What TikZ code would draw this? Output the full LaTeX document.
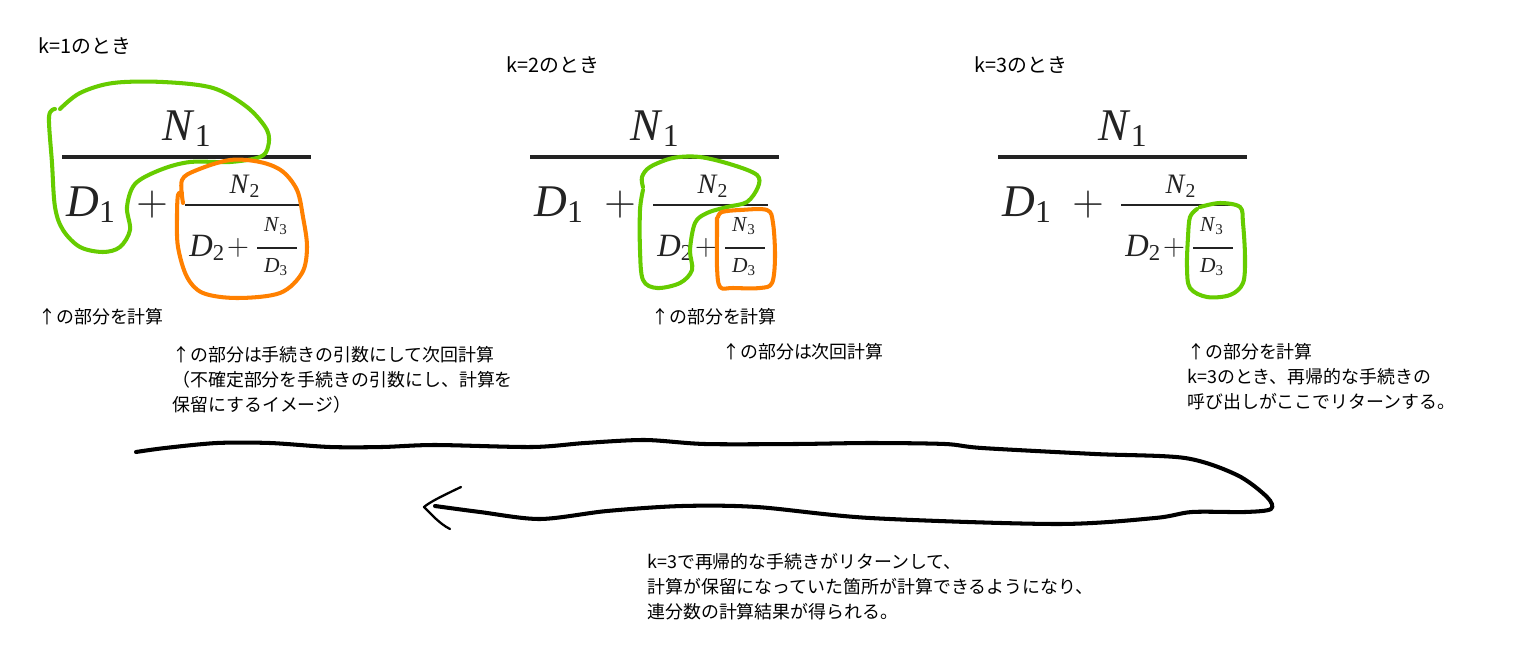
\documentclass[tikz,border=0pt]{standalone}
\usepackage[no-math]{fontspec}
\newfontfamily\jp{Noto Sans CJK JP}
\newfontfamily\tms{Liberation Serif}
\usetikzlibrary{calc}
\definecolor{penG}{RGB}{102,204,0}
\definecolor{penO}{RGB}{255,128,0}
\definecolor{ink}{RGB}{35,35,35}
\newcommand{\vr}[2]{\textit{#1}\textsubscript{#2}}
\tikzset{
  lbl/.style={font=\jp\fontsize{10.2}{14.2}\selectfont, inner sep=0pt, anchor=north west, align=left},
  ttl/.style={font=\jp\fontsize{11.3}{14}\selectfont, inner sep=0pt, anchor=west},
  symL/.style={font=\tms\fontsize{25.8}{30}\selectfont, text=ink, inner sep=0pt},
  symM/.style={font=\tms\fontsize{16}{20}\selectfont, text=ink, inner sep=0pt},
  symD/.style={font=\tms\fontsize{18.5}{22}\selectfont, text=ink, inner sep=0pt},
  symS/.style={font=\tms\fontsize{12.2}{15}\selectfont, text=ink, inner sep=0pt},
  pen/.style={line width=2.3pt, line cap=round, line join=round}
}
\begin{document}
\begin{tikzpicture}[x=0.02cm, y=-0.02cm]
\useasboundingbox (0,0) rectangle (1516,670);
\fill[white] (0,0) rectangle (1516,670);
% the three stages k=1,2,3
\node[ttl] (kA) at (38,46) {k=1のとき};
\node[ttl] (kB) at (506,65) {k=2のとき};
\node[ttl] (kC) at (974,65) {k=3のとき};
% the same continued fraction, three times
\foreach \ox/\s in {62/A,530/B,998/C}{
\begin{scope}[shift={(\ox,157)}]
  \draw[ink, line width=2pt] (0,0) -- (249,0);
  \draw[ink, line width=1.6pt] (123,48) -- (238,48);
  \draw[ink, line width=1.3pt] (195,91) -- (235,91);
  \node[symL, anchor=base] (N1\s) at (125,-17) {\vr{N}{1}};
  \node[symL, anchor=base west] (D1\s) at (4,59) {\vr{D}{1}};
  \node[symL] (P1\s) at (90,48) {$+$};
  \node[symM, anchor=base] (N2\s) at (183,36) {\vr{N}{2}};
  \node[symD, anchor=base west] (D2\s) at (127,99) {\vr{D}{2}};
  \node[symD] (P2\s) at (176,91) {$+$};
  \node[symS, anchor=base] (N3\s) at (214,74) {\vr{N}{3}};
  \node[symS, anchor=base] (D3\s) at (214,115) {\vr{D}{3}};
\end{scope}}
% k=1: green = computed now, orange = handed over
\draw[pen, penG] plot[smooth, tension=0.55] coordinates {(60,109) (80,93) (113,83) (163,82) (213,88) (247,107) (267,130) (268,147) (260,157) (230,162) (190,162) (160,170) (135,184) (127,207) (130,230) (120,247) (103,252) (80,247) (63,230) (55,207) (52,163) (49,117) (55,109)};
\draw[pen, penO] plot[smooth, tension=0.55] coordinates {(183,203) (182,180) (197,170) (230,160) (260,162) (282,171) (297,190) (303,217) (307,247) (302,273) (280,293) (237,298) (203,293) (187,277) (178,247) (177,217) (178,195) (182,193)};
% k=2
\draw[pen, penG] plot[smooth, tension=0.55] coordinates {(643,187) (642,177) (650,167) (673,158) (700,157) (733,165) (757,175) (758,187) (747,202) (727,207) (707,213) (695,223) (690,250) (692,270) (680,283) (657,288) (643,280) (640,250) (640,210) (643,190)};
\draw[pen, penO] plot[smooth, tension=0.55] coordinates {(718,217) (722,212) (740,210) (767,210) (773,223) (775,257) (772,283) (760,288) (733,288) (720,287) (717,267) (717,233) (717,218)};
% k=3
\draw[pen, penG] plot[smooth, tension=0.55] coordinates {(1200,207) (1220,203) (1240,207) (1243,223) (1245,257) (1243,283) (1230,295) (1207,297) (1190,288) (1187,267) (1188,237) (1190,217) (1197,209)};
% notes under the formulas
\node[lbl] (calcA) at (38,308) {↑の部分を計算};
\node[lbl] (noteA) at (172,346) {↑の部分は手続きの引数にして次回計算\\（不確定部分を手続きの引数にし、計算を\\保留にするイメージ）};
\node[lbl] (calcB) at (651,308) {↑の部分を計算};
\node[lbl] (noteB) at (722,343) {↑の部分は次回計算};
\node[lbl] (noteC) at (1187,343) {↑の部分を計算\\k=3のとき、再帰的な手続きの\\呼び出しがここでリターンする。};
% return path
\coordinate (tip) at (424,507);
\draw[pen, black] plot[smooth, tension=0.5] coordinates {(136,452) (165,448) (217,443) (270,443) (330,447) (382,447) (435,445) (532,447) (585,443) (645,440) (705,444) (795,444) (870,443) (945,444) (982,448) (1095,454) (1185,458) (1237,475) (1267,497) (1271,509) (1245,512) (1192,512) (1155,518) (1057,524) (870,518) (757,507) (682,506) (607,511) (540,519) (480,512) (435,506)};
\draw[line width=1.3pt, line cap=round, line join=round] (461,487) .. controls (440,497) and (430,502) .. (tip) .. controls (432,515) and (440,524) .. (450,529);
\node[lbl] (noteD) at (647,553) {k=3で再帰的な手続きがリターンして、\\計算が保留になっていた箇所が計算できるようになり、\\連分数の計算結果が得られる。};
\end{tikzpicture}
\end{document}
